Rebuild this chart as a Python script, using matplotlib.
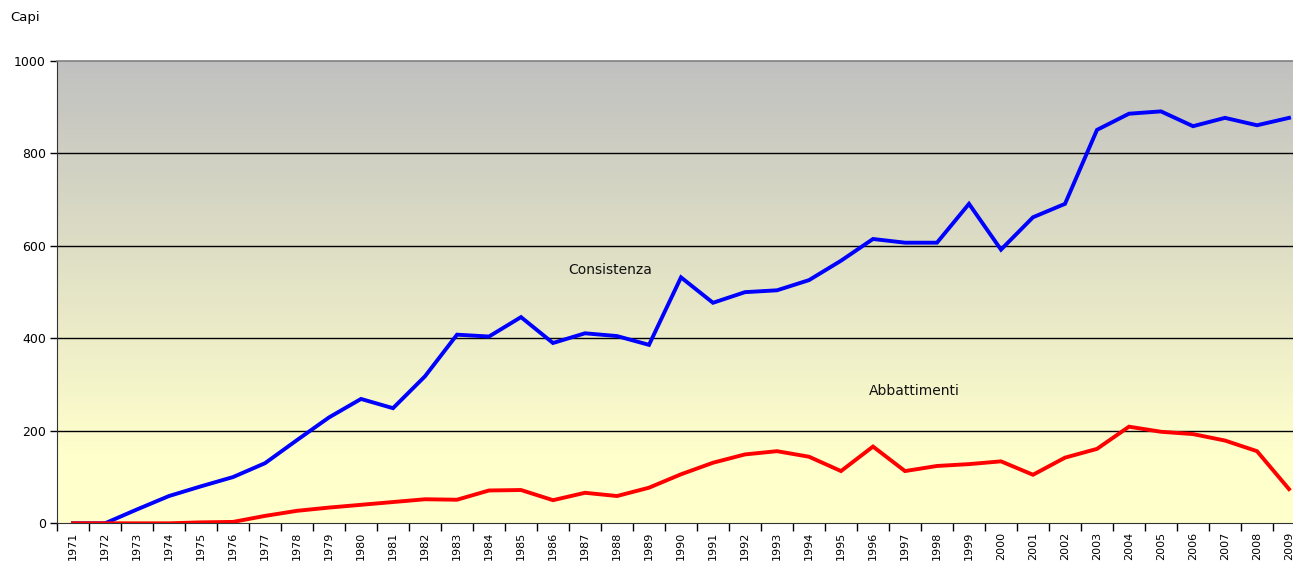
import numpy as np
import matplotlib
matplotlib.use("Agg")
import matplotlib.pyplot as plt

years = list(range(1971, 2010))
consistenza = [0, 0, 30, 59, 80, 100, 130, 180, 229, 269, 249, 318,
               408, 404, 446, 390, 411, 405, 386, 532, 477, 500, 504, 526,
               568, 615, 607, 607, 691, 592, 662, 691, 851, 886, 891, 859,
               877, 861, 877]
abbattimenti = [0, 0, 0, 0, 2, 3, 16, 27, 34, 40, 46, 52,
                51, 71, 72, 50, 66, 59, 77, 106, 131, 149, 156, 144,
                113, 166, 113, 124, 128, 134, 105, 142, 161, 209, 198, 193,
                179, 156, 74]
yticks = [0, 200, 400, 600, 800, 1000]

fig = plt.figure(figsize=(12.93, 5.63), dpi=100)
ax = fig.add_axes([57 / 1293, 39.7 / 563, 1248 / 1293, 462.3 / 563])

x = np.arange(len(years))
ax.set_xlim(-0.5, len(years) - 0.5)
ax.set_ylim(0, 1000)

# sfondo sfumato grigio -> giallo chiaro
top = np.array([192, 192, 192]) / 255
bot = np.array([255, 255, 204]) / 255
vals = np.linspace(1000, 0, 400)
t = np.clip((1000 - vals) / 850, 0, 1)[:, None]
grad = (top * (1 - t) + bot * t)[:, None, :]
ax.imshow(grad, extent=[-0.5, len(years) - 0.5, 0, 1000], aspect='auto', zorder=0)

for yv in yticks[1:-1]:
    ax.axhline(yv, color='black', lw=1, zorder=1)

ax.plot(x, consistenza, color='#0000FF', lw=2.8, zorder=3, solid_joinstyle='miter')
ax.plot(x, abbattimenti, color='#FF0000', lw=2.8, zorder=4, solid_joinstyle='miter')

ax.text(16.8, 548, "Consistenza", fontsize=10, ha='center', va='center', color='#111111')
ax.text(26.3, 286, "Abbattimenti", fontsize=10, ha='center', va='center', color='#111111')

ax.set_xticks(x)
ax.set_xticklabels([str(y) for y in years], rotation=90, fontsize=8)
ax.set_xticks(np.arange(-0.5, len(years)), minor=True)
ax.tick_params(axis='x', which='major', length=0, pad=6)
ax.tick_params(axis='x', which='minor', length=6, width=1, color='black')
ax.set_yticks(yticks)
ax.set_yticklabels([str(v) for v in yticks], fontsize=9)
ax.tick_params(axis='y', length=5, width=1, color='black', pad=3)

ax.spines['top'].set_color('#808080')
ax.spines['top'].set_linewidth(1.2)
ax.spines['right'].set_visible(False)
ax.spines['left'].set_color('#333333')
ax.spines['bottom'].set_color('#333333')

fig.text(10 / 1293, 1 - 18 / 563, "Capi", fontsize=9.5, ha='left', va='center')

fig.savefig("out.png", dpi=100)
